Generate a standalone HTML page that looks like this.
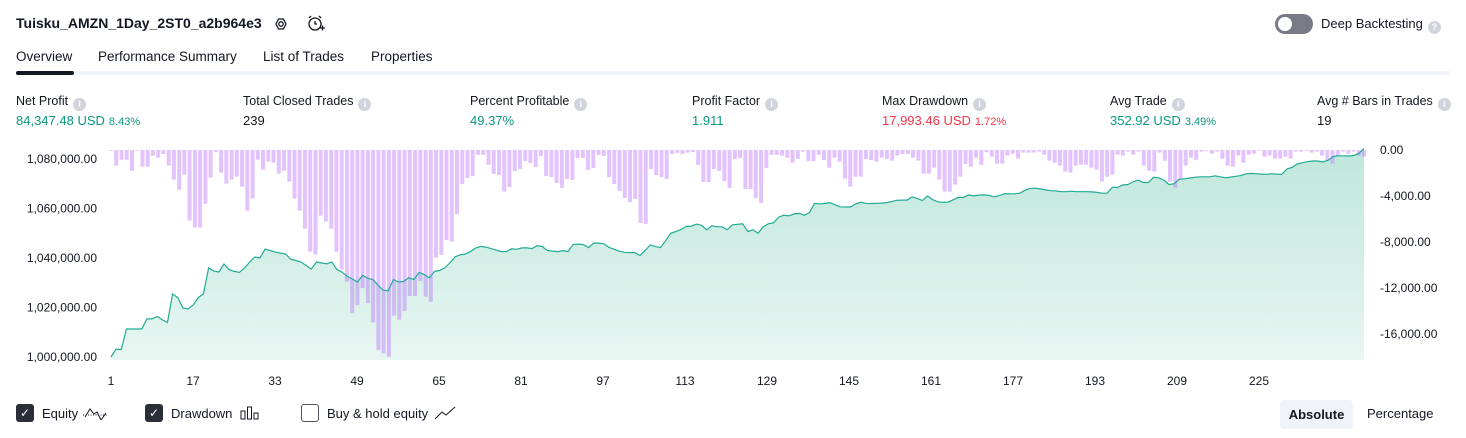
<!DOCTYPE html>
<html><head><meta charset="utf-8"><style>
*{box-sizing:border-box;margin:0;padding:0}
body{width:1466px;height:438px;background:#fff;font-family:"Liberation Sans",sans-serif;color:#131722;position:relative;overflow:hidden}
.abs{position:absolute;white-space:nowrap}
.title{left:16px;top:15px;font-size:14px;font-weight:bold}
.tab{top:49px;font-size:13.5px;color:#131722}
.lbl{top:94px;font-size:12.5px;color:#131722}
.info{display:inline-block;width:13px;height:13px;border-radius:50%;background:#d1d4dc;color:#fff;font-size:9px;text-align:center;line-height:13px;margin-left:5px;vertical-align:-2px;font-weight:bold}
.val{top:113px;font-size:13px}
.pct{font-size:11px;margin-left:4px}
.g{color:#089981}.r{color:#f23645}
.cb{display:inline-block;width:18px;height:18px;border-radius:3px;margin-right:8px}
.leg{top:403px;font-size:13px;display:flex;align-items:center;height:20px}
</style></head><body>
<div class="abs title">Tuisku_AMZN_1Day_2ST0_a2b964e3</div>
<svg class="abs" style="left:272px;top:15px" width="18" height="18"><polygon points="4,9 6.5,4 11.5,4 14,9 11.5,14 6.5,14" fill="none" stroke="#131722" stroke-width="1.3"/><circle cx="9" cy="9" r="2.2" fill="none" stroke="#131722" stroke-width="1.3"/></svg>
<svg class="abs" style="left:306px;top:14px" width="20" height="20"><circle cx="9" cy="10" r="6" fill="none" stroke="#131722" stroke-width="1.3"/><path d="M9 7v3h2M3 4l2-2M15 4l-2-2M14 14h5M16.5 11.5v5" stroke="#131722" stroke-width="1.3" fill="none"/></svg>
<div class="abs" style="left:1275px;top:14px;width:38px;height:20px;border-radius:10px;background:#787b86"><div style="position:absolute;left:3px;top:3px;width:14px;height:14px;border-radius:50%;background:#fff"></div></div>
<div class="abs" style="left:1321px;top:16px;font-size:13px">Deep Backtesting<span class="info">?</span></div>

<div class="abs tab" style="left:16px">Overview</div>
<div class="abs tab" style="left:98px">Performance Summary</div>
<div class="abs tab" style="left:263px">List of Trades</div>
<div class="abs tab" style="left:371px">Properties</div>
<div class="abs" style="left:16px;top:71px;width:1434px;height:4px;background:#f0f3fa"></div>
<div class="abs" style="left:16px;top:71px;width:58px;height:4px;border-radius:2px;background:#131722"></div>

<div class="abs lbl" style="left:16px">Net Profit<span class="info">i</span></div>
<div class="abs val g" style="left:16px">84,347.48 USD<span class="pct">8.43%</span></div>
<div class="abs lbl" style="left:243px">Total Closed Trades<span class="info">i</span></div>
<div class="abs val" style="left:243px">239</div>
<div class="abs lbl" style="left:470px">Percent Profitable<span class="info">i</span></div>
<div class="abs val g" style="left:470px">49.37%</div>
<div class="abs lbl" style="left:692px">Profit Factor<span class="info">i</span></div>
<div class="abs val g" style="left:692px">1.911</div>
<div class="abs lbl" style="left:882px">Max Drawdown<span class="info">i</span></div>
<div class="abs val r" style="left:882px">17,993.46 USD<span class="pct">1.72%</span></div>
<div class="abs lbl" style="left:1110px">Avg Trade<span class="info">i</span></div>
<div class="abs val g" style="left:1110px">352.92 USD<span class="pct">3.49%</span></div>
<div class="abs lbl" style="left:1317px">Avg # Bars in Trades<span class="info">i</span></div>
<div class="abs val" style="left:1317px">19</div>

<svg class="abs" style="left:0;top:0" width="1466" height="438" id="chart">
<defs><linearGradient id="ag" x1="0" y1="0" x2="0" y2="1"><stop offset="0" stop-color="#bfe7dc"/><stop offset="1" stop-color="#e8f6f2"/></linearGradient></defs>
</svg>

<div class="abs leg" style="left:16px"><span class="cb" style="background:#2a2e39;color:#fff;font-size:12px;text-align:center;line-height:18px">✓</span>Equity&nbsp;<svg width="26" height="14"><path d="M1 9h24" stroke="#131722" stroke-dasharray="1 1.5"/><path d="M3 11l5-8 4 5 3-2 4 8 5-7" fill="none" stroke="#131722"/></svg></div>
<div class="abs leg" style="left:145px"><span class="cb" style="background:#2a2e39;color:#fff;font-size:12px;text-align:center;line-height:18px">✓</span>Drawdown <svg width="20" height="14" style="margin-left:8px"><rect x="1" y="5" width="4" height="8" fill="none" stroke="#131722"/><rect x="7.5" y="1" width="4" height="12" fill="none" stroke="#131722"/><rect x="14" y="7" width="4" height="6" fill="none" stroke="#131722"/></svg></div>
<div class="abs leg" style="left:301px"><span class="cb" style="border:1px solid #50535e"></span>Buy &amp; hold equity <svg width="22" height="14" style="margin-left:6px"><path d="M1 13l7-7 4 3 9-8" fill="none" stroke="#131722"/></svg></div>
<div class="abs" style="left:1280px;top:400px;width:73px;height:29px;border-radius:4px;background:#f0f3fa;font-size:13px;font-weight:bold;text-align:center;line-height:29px">Absolute</div>
<div class="abs" style="left:1367px;top:406px;font-size:13px">Percentage</div>

<script>
// equity in thousands USD above 1,000,000
const equity=[0,3.2,3,11.3,11.3,11.3,11.3,15.4,15.4,16.4,15,14,25.5,24,19.8,19.4,21,24,25.5,36,34.8,34.3,37.6,35.3,34.6,34.2,36,38.4,40.4,40,43.6,43,42.4,42,41.6,39.5,39,38.4,37,35.5,38.4,38,37.6,38.4,35.3,34.3,32.6,31.5,30.3,33,31.8,31.3,29,27,26.8,31.3,30.3,30.6,32,31.3,34.2,33.3,32,34.6,35,36,
38,40.5,41.3,41.6,42.6,44,44.7,44.4,43.8,43.2,42.6,42.6,43.7,43.5,44.1,44.1,43.8,45,44.6,43,42.8,42.6,43,42.6,45.5,45.6,45.4,44.2,46,46,45.7,44.3,43.5,42.7,42.3,42.2,42.2,41,43,45.3,44.6,44.2,47,50,50.7,51.5,52.7,52.9,53.7,53.2,51.4,53,52.6,52.6,51.4,53.4,53.6,53.8,50.7,51.4,50,52.6,53.8,54.2,56.5,
57.3,57,57.8,58,57.3,58.3,62,61.9,62,62.4,61.5,60.7,60.6,60.6,61.8,62.5,62.1,62,62.1,62.2,62.4,62.8,63.3,63.4,63.4,64.7,64.1,63.2,65.1,63.6,62.7,62.5,62.6,63.5,64.5,64.5,65.5,65.1,65.4,65.5,65.3,64.7,65.3,66,65.9,66,66.2,67.4,68.1,68.2,67.9,67.5,67.2,67.1,66.8,66.8,
67,66.8,66.8,66.8,66.7,66.5,66.2,66.2,68.6,68.5,69.5,69.7,70.7,71.5,70.5,70.5,72.6,72.4,71.5,69.7,70,71.8,72,72.3,72.6,72.8,72.8,72.8,73.2,72.8,72.4,72.7,73,73.3,74,74.2,74,73.9,73.8,74,73.9,73.8,76,76.6,78,78.5,78.9,79.2,79.2,78.8,79.5,81,81.3,81.3,81.2,81.4,82.3,84.3];
// drawdown in thousands USD
const drawdown=[-0.06,-1.36,-0.84,-0.84,-1.8,-0.06,-1.45,-1.45,-0.5,-0.67,-0.35,-1.36,-2.58,-3.45,-2.14,-6.14,-6.75,-6.75,-4.67,-2.4,-0.2,-1.97,-2.93,-2.58,-2.32,-3.19,-5.28,-4.23,-0.84,-1.71,-1.01,-1.1,-2.06,-1.8,-2.75,-4.23,-5.28,-6.84,-8.84,-9.1,-5.71,-6.23,-6.84,-8.84,-10.4,-11.45,-14.2,-13.5,-12,-13.3,-15,-17.4,-17.7,-18.0,-14.4,-14.75,-14,-12.7,-12.7,-11.4,-12.75,-13.2,-9.36,
-9.13,-7.83,-7.97,-5.57,-2.96,-2.43,-2.26,-0.43,-0.43,-1.3,-2.09,-2.17,-3.62,-3.22,-1.83,-1.65,-0.96,-1.13,-1.48,-0.52,-2.26,-2.35,-2.87,-3.3,-2.52,-2.61,-0.7,-0.7,-1.74,-1.57,-0.43,-0.52,-2.35,-2.96,-3.57,-4.17,-4.52,-4.26,-6.35,-6.43,-1.65,-2.17,-2.35,-2.52,-0.35,-0.26,-0.35,-0.23,-0.17,-1.3,-2.78,-2.78,-1.65,-1.83,-2.7,-3.3,-0.78,-0.7,-3.39,-3.39,-4.17,-4.6,-1.57,-0.43,-0.43,
-0.49,-0.67,-1.1,-0.78,-0.14,-0.96,-0.96,-0.43,-0.87,-1.54,-0.67,-1.01,-2.49,-3.19,-2.32,-2.32,-0.78,-0.87,-1.01,-0.67,-0.78,-0.93,-0.49,-0.35,-0.35,-0.67,-0.93,-2.06,-2.06,-1.54,-2.58,-3.62,-3.62,-3.01,-2.32,-1.22,-1.45,-0.67,-1.28,-0.2,-0.58,-1.19,-1.19,-0.49,-0.32,-0.75,-0.23,-0.23,-0.23,-0.14,-0.41,-0.93,-1.1,-1.36,-1.88,-1.97,
-1.36,-1.28,-1.28,-1.54,-1.71,-2.75,-2.32,-2.14,-0.41,-0.49,-0.14,-0.41,-0.14,-1.36,-1.8,-1.88,-0.23,-0.93,-2.75,-3.28,-2.58,-1.36,-0.67,-0.84,-0.14,-0.06,-0.32,-0.14,-0.75,-1.36,-1.45,-0.49,-1.1,-0.41,-0.32,-0.06,-0.58,-0.49,-0.75,-0.75,-0.58,-0.75,-0.14,-0.14,-0.06,-0.23,-0.14,-0.49,-0.93,-1.19,-0.49,-0.14,-0.32,-0.14,-0.49,-0.58];
const leftTicks=[1000000,1020000,1040000,1060000,1080000];
const rightTicks=[0,-4000,-8000,-12000,-16000];
const xTicks=[1,17,33,49,65,81,97,113,129,145,161,177,193,209,225];

const NS='http://www.w3.org/2000/svg';
const svg=document.getElementById('chart');
const X0=111,X1=1364,Y_BOTTOM=360;
const yEq=v=>357-(v)*2.475;
const yDD=v=>150-v*11.5;
const xIdx=(i,n)=>X0+i*(X1-X0)/(n-1);
const xTrade=t=>111+(t-1)*5.125;
function mk(tag,attrs){const e=document.createElementNS(NS,tag);for(const k in attrs)e.setAttribute(k,attrs[k]);svg.appendChild(e);return e;}

let d='M'+xIdx(0,equity.length)+' '+Y_BOTTOM;
equity.forEach((v,i)=>{d+=' L'+xIdx(i,equity.length).toFixed(1)+' '+yEq(v).toFixed(1);});
d+=' L'+X1+' '+Y_BOTTOM+' Z';
const area=mk('path',{d:d,fill:'url(#ag)'});



drawdown.forEach((v,i)=>{
  const x=xIdx(i,drawdown.length);
  const b=mk('rect',{x:(x-2).toFixed(1),y:150,width:4,height:Math.max(0.8,yDD(v)-150).toFixed(1),fill:'rgba(186,104,250,0.4)'});
  
  
});

let ld='';
equity.forEach((v,i)=>{ld+=(i?' L':'M')+xIdx(i,equity.length).toFixed(1)+' '+yEq(v).toFixed(1);});
const line=mk('path',{d:ld,fill:'none',stroke:'#22ab94','stroke-width':1.2});



leftTicks.forEach(t=>{
  const e=mk('text',{x:97,y:yEq((t-1000000)/1000)+4,'text-anchor':'end','font-size':12,fill:'#131722'});
  e.textContent=t.toLocaleString('en-US',{minimumFractionDigits:2});
  
  
});
rightTicks.forEach(t=>{
  const e=mk('text',{x:1380,y:yDD(t/1000)+4,'font-size':12,fill:'#131722'});
  e.textContent=t.toLocaleString('en-US',{minimumFractionDigits:2});
  
  
});
xTicks.forEach(t=>{
  const e=mk('text',{x:xTrade(t),y:385,'text-anchor':'middle','font-size':12,fill:'#131722'});
  e.textContent=t;
  
  
});
</script>
</body></html>
